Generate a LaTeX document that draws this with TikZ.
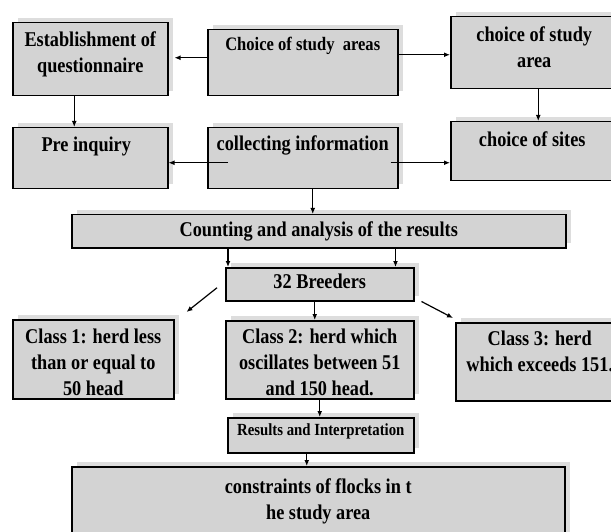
\documentclass[tikz,border=0pt]{standalone}
\usepackage{fontspec}
\setmainfont{Liberation Serif}[FakeStretch=0.87]
\usetikzlibrary{arrows.meta,shadows,positioning,calc}
\definecolor{boxgray}{RGB}{211,211,211}
\definecolor{shadegray}{RGB}{221,221,221}
\tikzset{
  box/.style={draw, line width=1.5pt, fill=boxgray, anchor=north west, inner sep=0pt,
    drop shadow={shadow xshift=5pt, shadow yshift=5pt, fill=shadegray, opacity=1}},
  lbl/.style={font=\bfseries\fontsize{21}{26}\selectfont, align=center, inner sep=0pt},
  arr/.style={-{Latex[length=6pt,width=5pt]}, line width=1.2pt},
}
\begin{document}
\begin{tikzpicture}[x=1pt, y=-1pt]
  \useasboundingbox (0,0) rectangle (611,532);

  % boxes
  \node[box, minimum width=155pt, minimum height=73pt] (est) at (12,22) {};
  \node[box, minimum width=190pt, minimum height=66pt] (study) at (207,29) {};
  \node[box, minimum width=167pt, minimum height=72pt] (area) at (450,16) {};
  \node[box, minimum width=155pt, minimum height=61pt] (pre) at (12,127) {};
  \node[box, minimum width=190pt, minimum height=61pt] (coll) at (207,127) {};
  \node[box, minimum width=167pt, minimum height=59pt] (sites) at (450,121) {};
  \node[box, minimum width=494pt, minimum height=33pt] (count) at (71,214) {};
  \node[box, minimum width=188pt, minimum height=33pt] (breed) at (225,267) {};
  \node[box, minimum width=161pt, minimum height=79pt] (c1) at (12,319) {};
  \node[box, minimum width=188pt, minimum height=78pt] (c2) at (225,320) {};
  \node[box, minimum width=168pt, minimum height=78pt] (c3) at (455,322) {};
  \node[box, minimum width=186pt, minimum height=35pt] (res) at (227,417) {};
  \node[box, minimum width=493pt, minimum height=90pt] (cons) at (71,466) {};

  % texts
  \node[lbl, below=10pt of est.north] (est-t) {Establishment of\\questionnaire};
  \node[lbl, below=8pt of study.north, font=\bfseries\fontsize{19}{24}\selectfont] (study-t) {Choice of study~ areas};
  \node[lbl, below=11pt of area.north] (area-t) {choice of study\\area};
  \node[lbl, below=10pt of pre.north, xshift=-4pt] (pre-t) {Pre inquiry};
  \node[lbl, below=9pt of coll.north] (coll-t) {collecting information};
  \node[lbl, below=11pt of sites.north, xshift=-2pt] (sites-t) {choice of sites};
  \node[lbl, below=8pt of count.north] (count-t) {Counting and analysis of the results};
  \node[lbl, below=7pt of breed.north] (breed-t) {32 Breeders};
  \node[lbl, below=10pt of c1.north] (c1-t) {Class 1: herd less\\than or equal to\\50 head};
  \node[lbl, below=9pt of c2.north] (c2-t) {Class 2: herd which\\oscillates between 51\\and 150 head.};
  \node[lbl, below=9pt of c3.north] (c3-t) {Class 3: herd\\which exceeds 151.};
  \node[lbl, below=7pt of res.north, font=\bfseries\fontsize{17}{19}\selectfont] (res-t) {Results and Interpretation};
  \node[lbl, below=13pt of cons.north] (cons-t) {constraints of flocks in t\\he study area};

  % arrows
  \draw[arr] ([yshift=5pt]study.west) -- ([xshift=6pt,yshift=5pt]study.west -| est.east);
  \draw[arr] ([yshift=8pt]study.east) -- ([yshift=8pt]study.east -| area.west);
  \draw[arr] ([xshift=-16pt]est.south) -- ([xshift=-16pt]pre.north);
  \draw[arr] ([xshift=4pt]area.south) -- ([xshift=4pt]sites.north);
  \draw[arr] ([xshift=21pt,yshift=-4.5pt]coll.west) -- ([yshift=-4.5pt]coll.west -| pre.east);
  \draw[arr] ([xshift=-8pt,yshift=-4.5pt]coll.east) -- ([yshift=-4.5pt]coll.east -| sites.west);
  \draw[arr] ([xshift=10pt]coll.south) -- ([xshift=10pt]coll.south |- count.north);
  \draw[arr] ([xshift=3pt]breed.north west |- count.south) -- ([xshift=3pt]breed.north west);
  \draw[arr] ([xshift=-19pt]breed.north east |- count.south) -- ([xshift=-19pt]breed.north east);
  \draw[arr] ([xshift=-5pt]breed.south) -- ([xshift=-5pt]c2.north);
  \draw[arr] ([xshift=-8pt,yshift=-3.5pt]breed.west) -- ([xshift=12pt,yshift=7pt]c1.north east);
  \draw[arr] ([xshift=7pt]breed.south east) -- ([xshift=-2pt,yshift=4pt]c3.north west);
  \draw[arr] (c2.south) -- (c2.south |- res.north);
  \draw[arr] ([xshift=-14pt]res.south) -- ([xshift=-14pt]res.south |- cons.north);
\end{tikzpicture}
\end{document}
